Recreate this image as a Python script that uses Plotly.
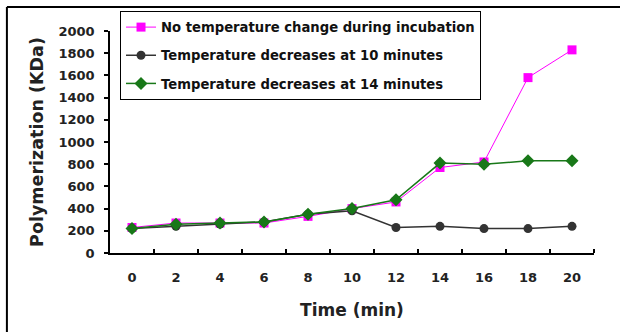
import plotly.graph_objects as go

time_min = [0, 2, 4, 6, 8, 10, 12, 14, 16, 18, 20]
no_change = [230, 270, 270, 270, 330, 400, 460, 770, 820, 1580, 1830]
dec_10 = [220, 240, 260, 280, 350, 380, 230, 240, 220, 220, 240]
dec_14 = [220, 260, 270, 280, 350, 400, 480, 810, 800, 830, 830]

names = ["No temperature change during incubation",
         "Temperature decreases at 10 minutes",
         "Temperature decreases at 14 minutes"]
y_ticks = list(range(0, 2001, 200))
x_ticks = list(range(0, 21, 2))

FONT = "DejaVu Sans"

fig = go.Figure()
fig.add_trace(go.Scatter(x=time_min, y=no_change, name=names[0], mode="lines+markers",
                         line=dict(color="#ff00ff", width=1),
                         marker=dict(symbol="square", size=9, color="#ff00ff"),
                         legendgroup="a"))
fig.add_trace(go.Scatter(x=time_min, y=dec_10, name=names[1], mode="lines+markers",
                         line=dict(color="#333333", width=1.5),
                         marker=dict(symbol="circle", size=9, color="#333333"),
                         legendgroup="b"))
fig.add_trace(go.Scatter(x=time_min, y=dec_14, name=names[2], mode="lines+markers",
                         line=dict(color="#187818", width=1.5),
                         marker=dict(symbol="diamond", size=10, color="#187818"),
                         legendgroup="c"))

fig.update_layout(
    width=620, height=332,
    margin=dict(l=110, r=26, t=31, b=79, autoexpand=False),
    paper_bgcolor="white", plot_bgcolor="white",
    font=dict(family=FONT, color="#222222"),
    showlegend=True,
    legend=dict(x=0.0207, y=1.09, xanchor="left", yanchor="top",
                bgcolor="white", bordercolor="black", borderwidth=1,
                font=dict(family=FONT, size=13.2, color="#111111", weight="bold"),
                tracegroupgap=8, traceorder="grouped"),
    xaxis=dict(range=[-1, 21], tickmode="array", tickvals=x_ticks,
               ticktext=[str(v) for v in x_ticks], ticks="",
               ticklabelstandoff=12,
               showgrid=False, zeroline=False, showline=True,
               linecolor="black", linewidth=1.5,
               tickfont=dict(family=FONT, size=13, color="#222222", weight="bold"),
               minor=dict(tickmode="array", tickvals=list(range(1, 22, 2)),
                          ticks="inside", ticklen=4, tickcolor="black", tickwidth=1.5),
               title=dict(text="<b>Time (min)</b>", font=dict(family=FONT, size=17, color="#222222"),
                          standoff=20)),
    yaxis=dict(range=[0, 2000], tickmode="array", tickvals=y_ticks, ticks="outside",
               ticklen=4, tickcolor="black", tickwidth=1.5,
               ticklabelstandoff=7,
               showgrid=False, zeroline=False, showline=True,
               linecolor="black", linewidth=1.5,
               tickfont=dict(family=FONT, size=13, color="#222222", weight="bold"),
               title=dict(text="<b>Polymerization (KDa)</b>", font=dict(family=FONT, size=17.5, color="#222222"),
                          standoff=10)),
    shapes=[
        dict(type="line", xref="paper", yref="paper", x0=-0.213, x1=1.2, y0=1.108, y1=1.108,
             line=dict(color="black", width=2)),
        dict(type="line", xref="paper", yref="paper", x0=-0.213, x1=-0.213, y0=1.108, y1=-0.5,
             line=dict(color="black", width=2)),
    ],
)

fig.write_html("out.html", config={"displayModeBar": False, "displaylogo": False},
               post_script="document.body.style.margin='0';")
